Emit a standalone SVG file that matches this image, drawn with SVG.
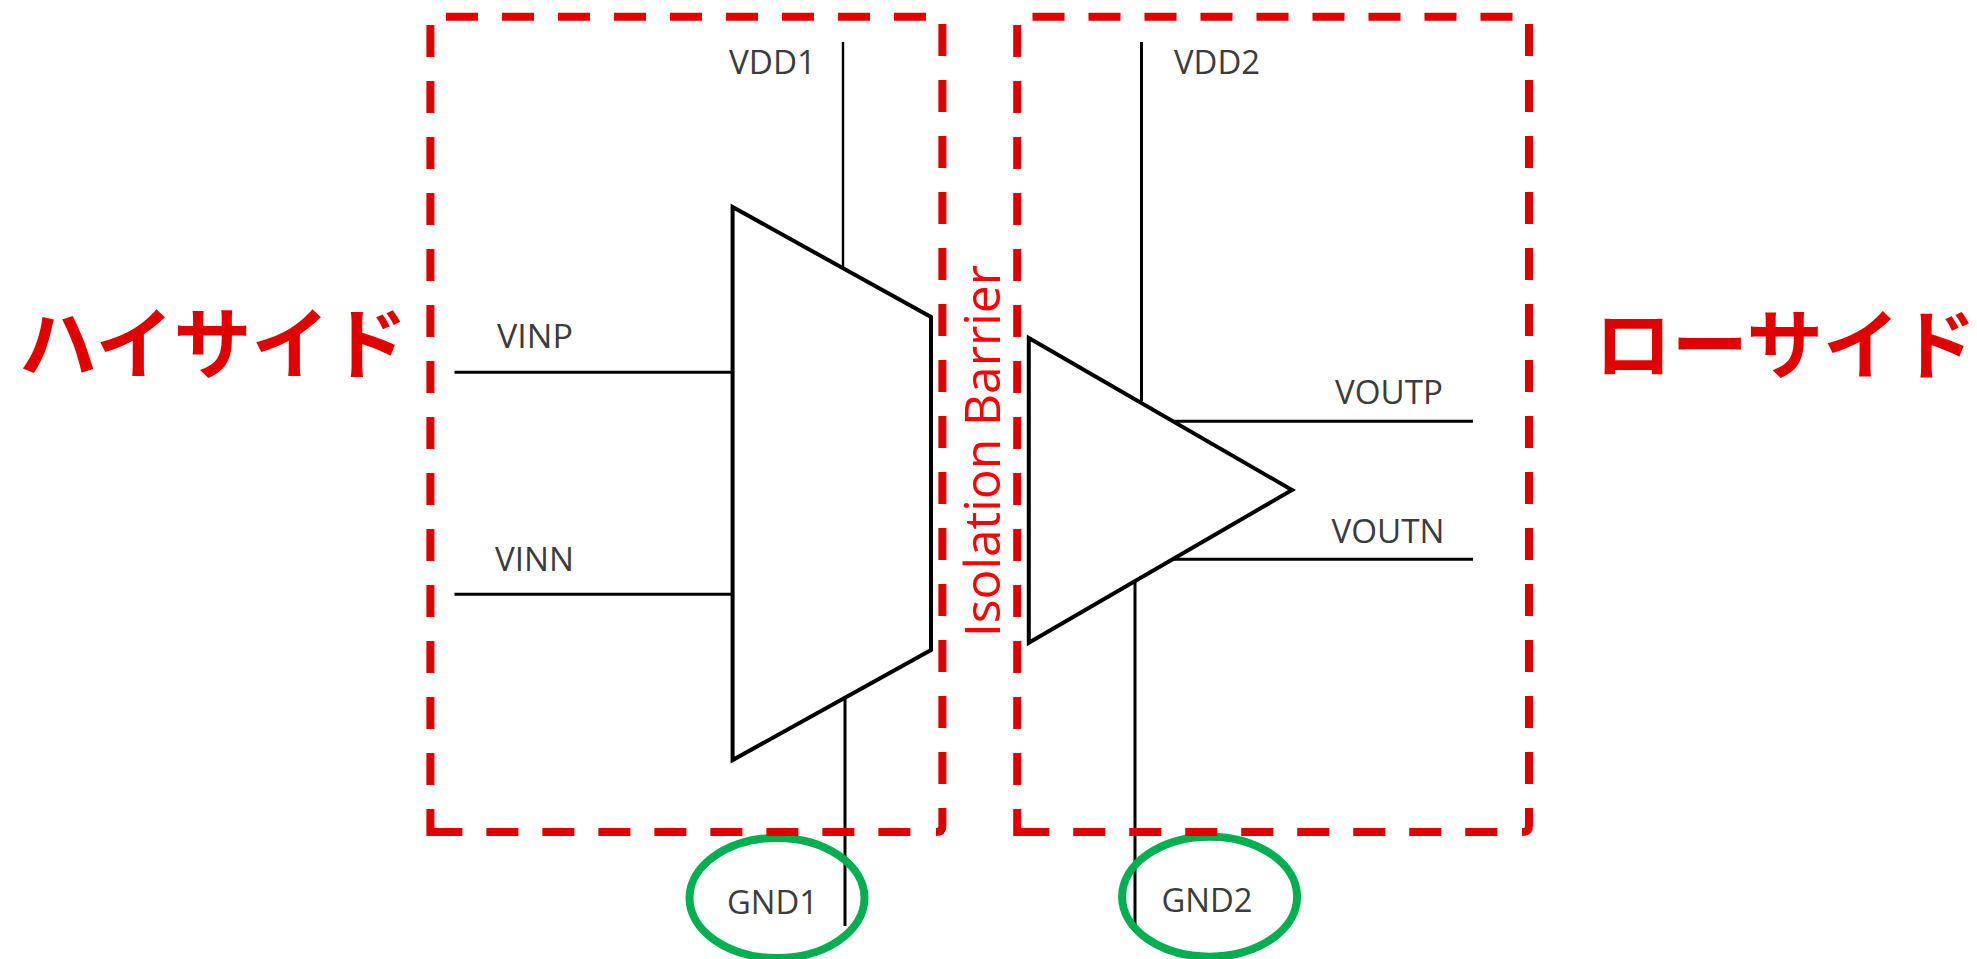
<svg xmlns="http://www.w3.org/2000/svg" width="1977" height="959" viewBox="0 0 1977 959">
<style>
.dash{fill:none;stroke:#e00000;stroke-width:8;stroke-dasharray:32 24}
.sym{fill:none;stroke:#000;stroke-width:4;stroke-linejoin:miter}
.wire{fill:none;stroke:#000;stroke-width:3}
.ring{fill:none;stroke:#00b050;stroke-width:8}
.lbl{font-family:"Open Sans","Liberation Sans",sans-serif;font-size:33px;fill:#3c3c3c}
.side{font-family:"Noto Sans CJK JP","Noto Sans",sans-serif;font-size:78px;font-weight:700;fill:#e00000}
.iso{font-family:"Open Sans","Liberation Sans",sans-serif;font-size:50px;fill:#ff0000}
</style>
<rect width="1977" height="959" fill="#fff"/>
<g id="connectors">
<path class="wire" style="stroke-width:2.400" d="M843 42V267"/>
<path class="wire" d="M454.500 372.300H732"/>
<path class="wire" d="M454.500 594.300H732"/>
<path class="wire" d="M845 697V926"/>
<path class="wire" d="M1141.500 42V401"/>
<path class="wire" d="M1174 421.300H1473"/>
<path class="wire" d="M1174 559.300H1473"/>
<path class="wire" d="M1135 580V925"/>
</g>
<g id="gnd1"><ellipse class="ring" cx="777" cy="898" rx="87.500" ry="60"/><text class="lbl" x="727" y="914" textLength="91" lengthAdjust="spacingAndGlyphs">GND1</text></g>
<g id="gnd2"><ellipse class="ring" cx="1209.600" cy="896.700" rx="87.500" ry="60"/><text class="lbl" x="1161.400" y="911.700" textLength="91" lengthAdjust="spacingAndGlyphs">GND2</text></g>
<g id="high-side-box"><path class="dash" d="M446 16.700H930M430.400 25V836M942.400 24V826Q942.400 832 936 832M430.400 832H912"/></g>
<g id="low-side-box"><path class="dash" d="M1032.500 16.700H1516M1017.200 25V836M1529 24V826Q1529 832 1522 832M1017.200 832H1500"/></g>
<g id="input-stage"><path class="sym" d="M732.600 207L931 317V650L732.600 760Z"/></g>
<g id="output-stage"><path class="sym" d="M1028.800 338L1292 490L1028.800 642.700Z"/></g>
<g id="vdd1"><text class="lbl" x="729" y="74" textLength="87" lengthAdjust="spacingAndGlyphs">VDD1</text></g>
<g id="vdd2"><text class="lbl" x="1174" y="74" textLength="86" lengthAdjust="spacingAndGlyphs">VDD2</text></g>
<g id="vinp"><text class="lbl" x="497" y="348" textLength="76" lengthAdjust="spacingAndGlyphs">VINP</text></g>
<g id="vinn"><text class="lbl" x="495" y="570.700" textLength="79" lengthAdjust="spacingAndGlyphs">VINN</text></g>
<g id="voutp"><text class="lbl" x="1335" y="404" textLength="108" lengthAdjust="spacingAndGlyphs">VOUTP</text></g>
<g id="voutn"><text class="lbl" x="1331.400" y="543" textLength="113" lengthAdjust="spacingAndGlyphs">VOUTN</text></g>
<g id="barrier"><text class="iso" transform="translate(1000 637) rotate(-90)" textLength="372" lengthAdjust="spacingAndGlyphs">Isolation Barrier</text></g>
<g id="high-side-label"><text class="side" x="19" y="373">ハイサイド</text></g>
<g id="low-side-label"><text class="side" style="font-size:76.500px" x="1595" y="373">ローサイド</text></g>
</svg>
